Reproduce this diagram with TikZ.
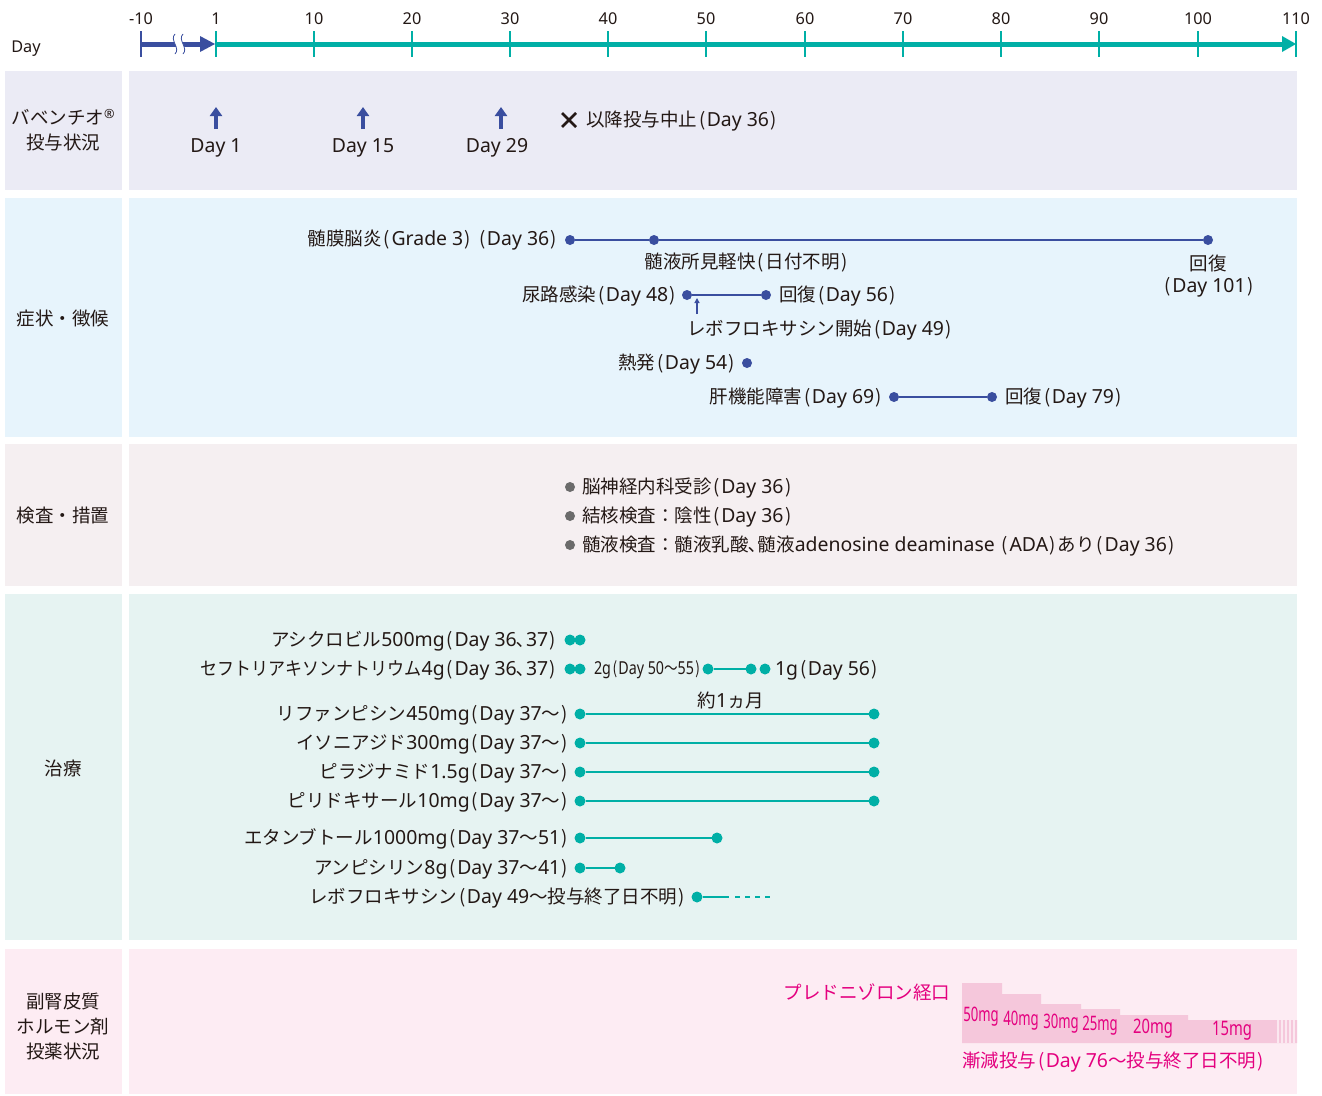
\documentclass[tikz,border=0pt]{standalone}
\usepackage{fontspec}
\setmainfont{Noto Sans CJK JP}
\newfontfamily\latf[Scale=1.05]{Noto Sans}
\newcommand\lat[1]{{\latf #1}}
\newcommand\lp{\hspace{2pt}(\hspace{1.5pt}}
\newcommand\rp{\hspace{1.5pt})\hspace{2pt}}
\usetikzlibrary{arrows.meta}
\definecolor{cblue}{HTML}{3A4E9F}
\definecolor{cteal}{HTML}{00AFA6}
\definecolor{cmag}{HTML}{E4007F}
\definecolor{bga}{HTML}{EBEBF5}
\definecolor{bgb}{HTML}{E7F4FC}
\definecolor{bgc}{HTML}{F5EFF1}
\definecolor{bgd}{HTML}{E6F3F2}
\definecolor{bge}{HTML}{FDECF3}
\definecolor{stepcol}{HTML}{F5C7DB}
\definecolor{txt}{HTML}{231815}
\definecolor{bulcol}{HTML}{6B6B6B}
\begin{document}
\begin{tikzpicture}[x=1pt,y=-1pt,
  every node/.style={inner sep=0pt, outer sep=0pt, text=txt, font=\fontsize{18.5}{22}\selectfont},
  bdot/.style={circle, fill=cblue, minimum size=10pt},
  tdot/.style={circle, fill=cteal, minimum size=11pt},
  gdot/.style={circle, fill=bulcol, minimum size=10pt},
  bline/.style={draw=cblue, line width=2.5pt},
  tline/.style={draw=cteal, line width=2.5pt},
  lab/.style={anchor=east},
  rlab/.style={anchor=west},
  lcol/.style={align=center, font=\fontsize{18.5}{25}\selectfont},
  ticklab/.style={font=\fontsize{15.5}{18}\selectfont},
  upar/.style={draw=cblue, line width=3.5pt, -{Triangle[length=9pt,width=12pt]}},
  cond/.style={text=cmag, font=\fontsize{19}{20}\selectfont},
]
\useasboundingbox (0,0) rectangle (1322,1095);
\fill[white] (0,0) rectangle (1322,1095);
% panels
\fill[bga] (5,71) rectangle (122,190); \fill[bga] (129,71) rectangle (1297,190);
\fill[bgb] (5,198) rectangle (122,437); \fill[bgb] (129,198) rectangle (1297,437);
\fill[bgc] (5,444) rectangle (122,586); \fill[bgc] (129,444) rectangle (1297,586);
\fill[bgd] (5,594) rectangle (122,940); \fill[bgd] (129,594) rectangle (1297,940);
\fill[bge] (5,949) rectangle (122,1094); \fill[bge] (129,949) rectangle (1297,1094);

% axis
\node[ticklab] (dayl) at (26,49) {\lat{Day}};
\coordinate (axA) at (141,44);
\coordinate (axB) at (202,44);
\coordinate (axC) at (216,44);
\coordinate (axD) at (1284,44);
\draw[cblue, line width=1.4pt] (141,31) -- (141,57);
\draw[cblue, line width=5pt] (axA) -- (axB);
\fill[cblue] (200,36) -- (215,44) -- (200,52) -- cycle;
\fill[white] (175,34) .. controls (169,40) and (181,48) .. (175,54) -- (183,54) .. controls (189,48) and (177,40) .. (183,34) -- cycle;
\draw[cblue, line width=0.8pt] (175,34) .. controls (169,40) and (181,48) .. (175,54);
\draw[cblue, line width=0.8pt] (183,34) .. controls (177,40) and (189,48) .. (183,54);
\draw[cteal, line width=5pt] (axC) -- (axD);
\fill[cteal] (1282,36) -- (1296,44) -- (1282,52) -- cycle;
\foreach \xx in {216,314,412,510,608,706,805,903,1001,1099,1198,1296}
  \draw[cteal, line width=1.4pt] (\xx,31) -- (\xx,57);
\node[ticklab] (t0) at (141,19) {\lat{-10}};
\node[ticklab] (t1) at (216,19) {\lat{1}};
\node[ticklab] (t2) at (314,19) {\lat{10}};
\node[ticklab] (t3) at (412,19) {\lat{20}};
\node[ticklab] (t4) at (510,19) {\lat{30}};
\node[ticklab] (t5) at (608,19) {\lat{40}};
\node[ticklab] (t6) at (706,19) {\lat{50}};
\node[ticklab] (t7) at (805,19) {\lat{60}};
\node[ticklab] (t8) at (903,19) {\lat{70}};
\node[ticklab] (t9) at (1001,19) {\lat{80}};
\node[ticklab] (t10) at (1099,19) {\lat{90}};
\node[ticklab] (t11) at (1198,19) {\lat{100}};
\node[ticklab] (t12) at (1296,19) {\lat{110}};

% left labels
\node[lcol] (L1) at (63,130) {バベンチオ\raisebox{0.55ex}{\fontsize{12}{12}\selectfont\latf ®}\\投与状況};
\node[lcol] (L2) at (63,318) {症状・徴候};
\node[lcol] (L3) at (63,516) {検査・措置};
\node[lcol] (L4) at (63,768) {治療};
\node[lcol] (L5) at (63,1026) {副腎皮質\\ホルモン剤\\投薬状況};

% row 1
\coordinate (a1s) at (216,129); \coordinate (a1e) at (216,107);
\coordinate (a2s) at (363,129); \coordinate (a2e) at (363,107);
\coordinate (a3s) at (501,129); \coordinate (a3e) at (501,107);
\draw[upar] (a1s) -- (a1e);
\draw[upar] (a2s) -- (a2e);
\draw[upar] (a3s) -- (a3e);
\node (d1) at (216,148) {\lat{Day 1}};
\node (d15) at (363,148) {\lat{Day 15}};
\node (d29) at (497,148) {\lat{Day 29}};
\draw[txt, line width=2.6pt] (562,113) -- (576,127) (576,113) -- (562,127);
\node[rlab] (stop) at (586,121) {以降投与中止\lp\lat{Day 36}\rp};

% row 2
\node[lab] (mt) at (557,240) {髄膜脳炎\lp\lat{Grade 3}\rp\ \lp\lat{Day 36}\rp};
\node[bdot] (m1) at (570,240) {};
\node[bdot] (m2) at (654,240) {};
\node[bdot] (m3) at (1208,240) {};
\draw[bline] (m1) -- (m2);
\draw[bline] (m2) -- (m3);
\node (mt2) at (746,263) {髄液所見軽快\lp 日付不明\rp};
\node (mt3) at (1208,263) {回復};
\node (mt4) at (1208,287) {\lp\lat{Day 101}\rp};
\node[lab] (ut) at (676,296) {尿路感染\lp\lat{Day 48}\rp};
\node[bdot] (u1) at (687,295) {};
\node[bdot] (u2) at (766,295) {};
\draw[bline] (u1) -- (u2);
\node[rlab] (ur) at (779,296) {回復\lp\lat{Day 56}\rp};
\coordinate (lvA) at (697,314); \coordinate (lvB) at (697,298);
\draw[cblue, line width=1.2pt, -{Triangle[length=5pt,width=5pt]}] (lvA) -- (lvB);
\node[rlab] (lv) at (687,330) {レボフロキサシン開始\lp\lat{Day 49}\rp};
\node[lab] (fv) at (735,364) {熱発\lp\lat{Day 54}\rp};
\node[bdot] (f1) at (747,363) {};
\node[lab] (lt) at (882,398) {肝機能障害\lp\lat{Day 69}\rp};
\node[bdot] (l1) at (894,397) {};
\node[bdot] (l2) at (992,397) {};
\draw[bline] (l1) -- (l2);
\node[rlab] (lr) at (1005,398) {回復\lp\lat{Day 79}\rp};

% row 3
\node[gdot] (b1) at (570,487) {};
\node[rlab] (bt1) at (582,488) {脳神経内科受診\lp\lat{Day 36}\rp};
\node[gdot] (b2) at (570,516) {};
\node[rlab] (bt2) at (582,517) {結核検査：陰性\lp\lat{Day 36}\rp};
\node[gdot] (b3) at (570,545) {};
\node[rlab] (bt3) at (582,546) {髄液検査：髄液乳酸､髄液\lat{adenosine deaminase }\lp\lat{ADA}\rp あり\lp\lat{Day 36}\rp};

% row 4
\node[lab] (ac) at (556,641) {アシクロビル\lat{500mg}\lp\lat{Day 36}､\lat{37}\rp};
\node[tdot] (ac1) at (570,640) {};
\node[tdot] (ac2) at (580,640) {};
\node[lab] (ce) at (556,670) {\scalebox{0.92}[1]{セフトリアキソンナトリウム}\lat{4g}\lp\lat{Day 36}､\lat{37}\rp};
\node[tdot] (ce1) at (570,669) {};
\node[tdot] (ce2) at (580,669) {};
\node[rlab] (ce2g) at (594,670) {\scalebox{0.8}[1]{\fontsize{17}{20}\selectfont\lat{2g}\lp\lat{Day 50}〜\lat{55}\rp}};
\node[tdot] (ce3) at (708,669) {};
\node[tdot] (ce4) at (751,669) {};
\node[tdot] (ce5) at (765,669) {};
\draw[tline] (ce3) -- (ce4);
\node[rlab] (ce1g) at (775,670) {\lat{1g}\lp\lat{Day 56}\rp};
\node (mon) at (731,700) {約\lat{1}ヵ月};
\node[lab] (rf) at (568,715) {リファンピシン\lat{450mg}\lp\lat{Day 37}〜\rp};
\node[tdot] (rf1) at (580,714) {};
\node[tdot] (rf2) at (874,714) {};
\draw[tline] (rf1) -- (rf2);
\node[lab] (in) at (568,744) {イソニアジド\lat{300mg}\lp\lat{Day 37}〜\rp};
\node[tdot] (in1) at (580,743) {};
\node[tdot] (in2) at (874,743) {};
\draw[tline] (in1) -- (in2);
\node[lab] (pz) at (568,773) {ピラジナミド\lat{1.5g}\lp\lat{Day 37}〜\rp};
\node[tdot] (pz1) at (580,772) {};
\node[tdot] (pz2) at (874,772) {};
\draw[tline] (pz1) -- (pz2);
\node[lab] (py) at (568,802) {ピリドキサール\lat{10mg}\lp\lat{Day 37}〜\rp};
\node[tdot] (py1) at (580,801) {};
\node[tdot] (py2) at (874,801) {};
\draw[tline] (py1) -- (py2);
\node[lab] (eb) at (568,839) {エタンブトール\lat{1000mg}\lp\lat{Day 37}〜\lat{51}\rp};
\node[tdot] (eb1) at (580,838) {};
\node[tdot] (eb2) at (717,838) {};
\draw[tline] (eb1) -- (eb2);
\node[lab] (ap) at (568,869) {アンピシリン\lat{8g}\lp\lat{Day 37}〜\lat{41}\rp};
\node[tdot] (ap1) at (580,868) {};
\node[tdot] (ap2) at (620,868) {};
\draw[tline] (ap1) -- (ap2);
\node[lab] (lf) at (685,898) {レボフロキサシン\lp\lat{Day 49}〜投与終了日不明\rp};
\node[tdot] (lf1) at (697,897) {};
\coordinate (lfm) at (729,897);
\coordinate (lfm2) at (735,897);
\coordinate (lfe) at (772,897);
\draw[tline] (lf1) -- (lfm);
\draw[tline, dash pattern=on 5pt off 5pt] (lfm2) -- (lfe);

% row 5
\node[lab, text=cmag] (pd) at (950,992) {プレドニゾロン経口};
\fill[stepcol] (962,1043) -- (962,983) -- (1002,983) -- (1002,994) -- (1041,994) -- (1041,1004) -- (1081,1004) -- (1081,1009) -- (1120,1009) -- (1120,1015) -- (1188,1015) -- (1188,1020) -- (1297,1020) -- (1297,1043) -- cycle;
\foreach \xx in {1278,1282,1286,1290,1294}
  \draw[white, opacity=0.6, line width=1.6pt] (\xx,1020) -- (\xx,1043);
\node[cond] (s50) at (981,1017) {\scalebox{0.66}[1]{\lat{50mg}}};
\node[cond] (s40) at (1021,1021) {\scalebox{0.66}[1]{\lat{40mg}}};
\node[cond] (s30) at (1061,1024) {\scalebox{0.66}[1]{\lat{30mg}}};
\node[cond] (s25) at (1100,1026) {\scalebox{0.66}[1]{\lat{25mg}}};
\node[cond] (s20) at (1153,1029) {\scalebox{0.74}[1]{\lat{20mg}}};
\node[cond] (s15) at (1232,1031) {\scalebox{0.74}[1]{\lat{15mg}}};
\node[rlab, text=cmag] (tp) at (962,1062) {漸減投与\lp\lat{Day 76}〜投与終了日不明\rp};
\end{tikzpicture}
\end{document}
